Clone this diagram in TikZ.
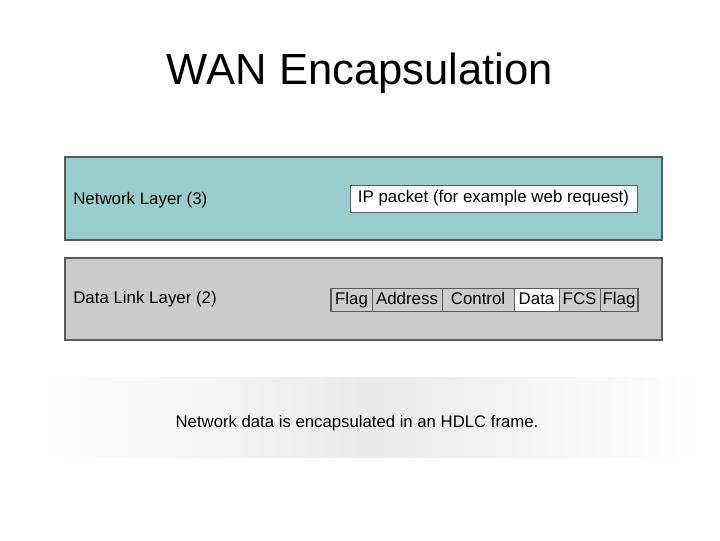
\documentclass[tikz,border=0pt]{standalone}
\usepackage{fontspec}
\setmainfont{Liberation Sans}
\usetikzlibrary{positioning}
\definecolor{netteal}{HTML}{99CCCC}
\definecolor{linkgray}{HTML}{CCCCCC}
\definecolor{edgegray}{HTML}{5A5A5A}
\begin{document}
\begin{tikzpicture}[x=0.025cm, y=-0.025cm,
  layer/.style={draw=edgegray, line width=1pt},
  label/.style={anchor=base west, inner sep=0pt, font=\fontsize{12}{14}\selectfont},
  field/.style={draw=edgegray, fill=linkgray, line width=0.5pt, outer sep=0pt, minimum height=0.575cm, inner sep=0pt, text height=8.8pt, text depth=2.6pt, font=\fontsize{12}{14}\selectfont}]
\useasboundingbox (0,0) rectangle (720,540);
\node[anchor=base, font=\fontsize{31}{36}\selectfont] (title) at (360,84) {WAN Encapsulation};
% the two layers
\draw[layer, fill=netteal] (65,157) rectangle (662,240);
\draw[layer, fill=linkgray] (65,258) rectangle (662,340);
\node[label] (net) at (73,204) {Network Layer (3)};
\node[label] (dll) at (73,303) {Data Link Layer (2)};
\node[draw=edgegray, fill=white, line width=0.6pt, minimum width=7.175cm, minimum height=0.675cm, inner sep=0pt, text height=8.8pt, text depth=2.6pt, font=\fontsize{12}{14}\selectfont] (ip) at (493.5,198.5) {IP packet (for example web request)};
% HDLC frame
\node[field, minimum width=1.025cm, anchor=west] (flag1) at (331,300) {Flag};
\node[field, minimum width=1.75cm, right=0pt of flag1] (addr) {Address};
\node[field, minimum width=1.8cm, right=0pt of addr] (ctrl) {Control};
\node[field, minimum width=1.125cm, fill=white, right=0pt of ctrl] (data) {Data};
\node[field, minimum width=1.025cm, right=0pt of data] (fcs) {FCS};
\node[field, minimum width=0.95cm, right=0pt of fcs] (flag2) {Flag};
\draw[edgegray, line width=1.2pt] (flag1.north west) rectangle (flag2.south east);
% caption band
\shade[left color=white, right color=white, middle color=black!8] (40,377) rectangle (700,457);
\node[anchor=base, font=\fontsize{11.9}{14}\selectfont] (cap) at (357,427) {Network data is encapsulated in an HDLC frame.};
\end{tikzpicture}
\end{document}
